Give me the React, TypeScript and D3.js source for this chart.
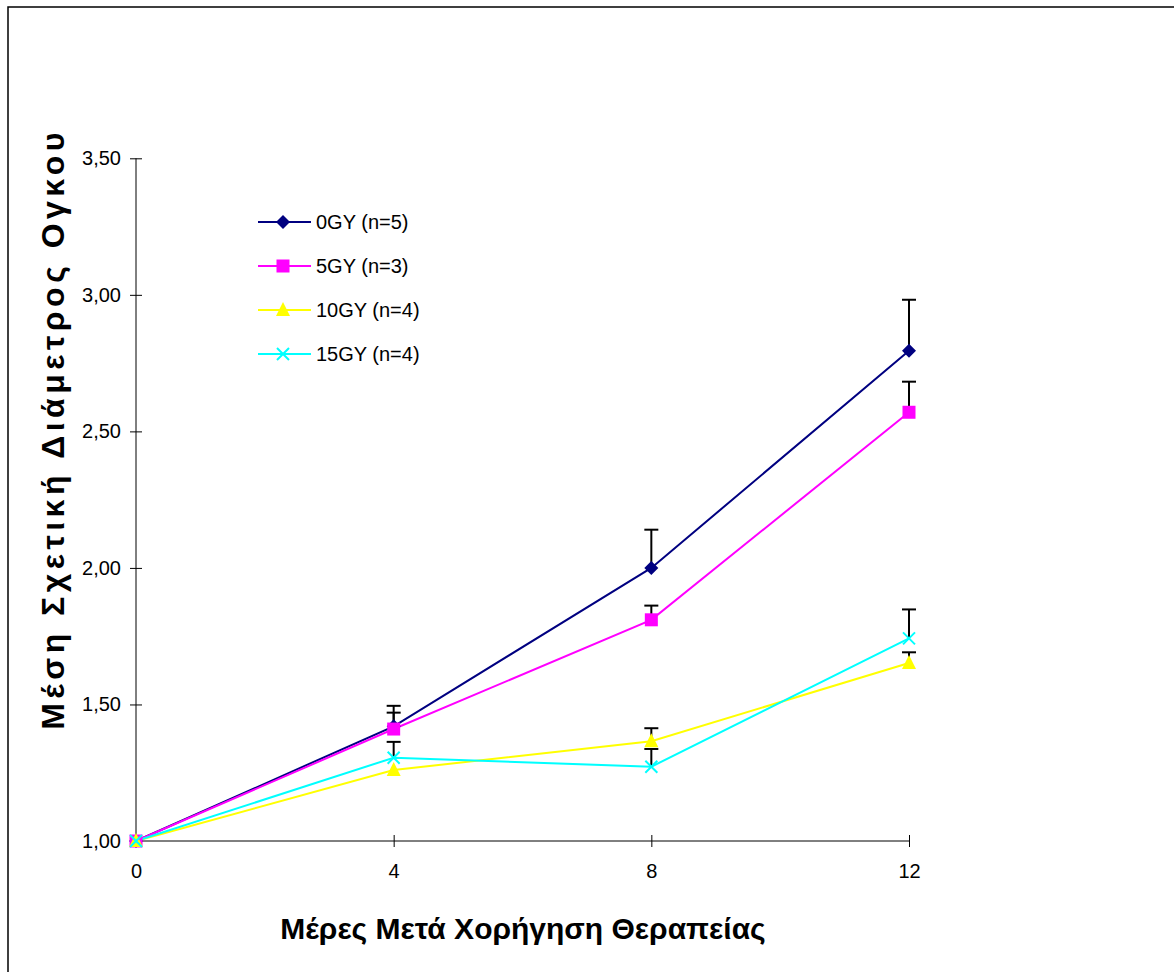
import React, { useEffect, useRef } from 'react';
import * as d3 from 'd3';

// days after treatment
const days = [0, 4, 8, 12];

const seriesNames = ['0GY (n=5)', '5GY (n=3)', '10GY (n=4)', '15GY (n=4)'];
const seriesColors = ['#000080', '#ff00ff', '#ffff00', '#00ffff'];
const seriesMarkers = ['diamond', 'square', 'triangle', 'cross'];

// mean relative tumour diameter
const gy0 = [1.0, 1.42, 2.0, 2.795];
const gy5 = [1.0, 1.41, 1.81, 2.57];
const gy10 = [1.0, 1.26, 1.365, 1.652];
const gy15 = [1.0, 1.305, 1.272, 1.742];

// upper end of error bars
const gy0Err = [1.0, 1.495, 2.14, 2.982];
const gy5Err = [1.0, 1.47, 1.862, 2.682];
const gy10Err = [1.0, 1.26, 1.413, 1.691];
const gy15Err = [1.0, 1.363, 1.337, 1.848];

const yTicks = [1.0, 1.5, 2.0, 2.5, 3.0, 3.5];

const FONT = 'Arial, "Liberation Sans", sans-serif';

const App = () => {
  const svgRef = useRef<SVGSVGElement>(null);
  const width = 1174;
  const height = 972;

  useEffect(() => {
    const svg = d3.select(svgRef.current);
    svg.selectAll('*').remove();

    const values = [gy0, gy5, gy10, gy15];
    const errs = [gy0Err, gy5Err, gy10Err, gy15Err];

    const x = d3.scaleLinear().domain([0, 12]).range([136, 909]);
    const y = d3.scaleLinear().domain([1, 3.5]).range([841, 158.3]);

    // outer frame
    svg.append('rect')
      .attr('x', 8).attr('y', 7)
      .attr('width', width + 20).attr('height', height + 20)
      .attr('fill', 'white').attr('stroke', '#000').attr('stroke-width', 1.5);

    // y axis
    const yAxis = svg.append('g')
      .attr('transform', 'translate(136,0)')
      .call(d3.axisLeft(y).tickValues(yTicks)
        .tickFormat(d => d3.format('.2f')(d as number).replace('.', ','))
        .tickSize(6));
    yAxis.selectAll('.tick line').attr('x2', 6).attr('x1', -6).attr('stroke', '#000');
    yAxis.select('.domain').attr('d', `M0,${y(3.5)}V${y(1)}`);
    yAxis.selectAll('text').attr('font-family', FONT)
      .attr('font-size', 20).attr('fill', '#000').attr('x', -15);

    // x axis
    const xAxis = svg.append('g')
      .attr('transform', 'translate(0,841)')
      .call(d3.axisBottom(x).tickValues(days).tickFormat(d3.format('d')).tickSize(6));
    xAxis.selectAll('.tick line').attr('y1', -6).attr('y2', 6).attr('stroke', '#000');
    xAxis.select('.domain').attr('d', `M${x(0)},0H${x(12)}`);
    xAxis.selectAll('text').attr('font-family', FONT)
      .attr('font-size', 20).attr('fill', '#000').attr('y', 23);

    // axis titles
    svg.append('text')
      .attr('x', 523).attr('y', 939)
      .attr('text-anchor', 'middle')
      .attr('font-family', FONT)
      .attr('font-weight', 'bold').attr('font-size', 30)
      .text('Μέρες Μετά Χορήγηση Θεραπείας');

    svg.append('text')
      .attr('transform', 'translate(64,429) rotate(-90)')
      .attr('text-anchor', 'middle')
      .attr('font-family', FONT)
      .attr('font-weight', 'bold').attr('font-size', 32)
      .attr('letter-spacing', 4.5)
      .text('Μέση Σχετική Διάμετρος Ογκου');

    const marker = (g: any, kind: string, color: string) => {
      if (kind === 'diamond') {
        g.append('path').attr('d', 'M0,-7L7,0L0,7L-7,0Z').attr('fill', color);
      } else if (kind === 'square') {
        g.append('rect').attr('x', -6.5).attr('y', -6.5).attr('width', 13).attr('height', 13).attr('fill', color);
      } else if (kind === 'triangle') {
        g.append('path').attr('d', 'M0,-8L7,6L-7,6Z').attr('fill', color);
      } else {
        g.append('path').attr('d', 'M-6,-6L6,6M-6,6L6,-6').attr('stroke', color).attr('stroke-width', 2);
      }
    };

    const line = d3.line<number>().x((_, i) => x(days[i])).y(d => y(d));

    // lines
    values.forEach((vals, s) => {
      svg.append('path').datum(vals)
        .attr('d', line)
        .attr('fill', 'none')
        .attr('stroke', seriesColors[s])
        .attr('stroke-width', 2);
    });

    // error bars
    errs.forEach((e, s) => {
      e.forEach((top, i) => {
        if (top <= values[s][i]) return;
        const g = svg.append('g').attr('stroke', '#000').attr('stroke-width', 2);
        g.append('line').attr('x1', x(days[i])).attr('x2', x(days[i]))
          .attr('y1', y(values[s][i])).attr('y2', y(top));
        g.append('line').attr('x1', x(days[i]) - 7).attr('x2', x(days[i]) + 7)
          .attr('y1', y(top)).attr('y2', y(top));
      });
    });

    // markers
    values.forEach((vals, s) => {
      vals.forEach((v, i) => {
        const g = svg.append('g').attr('transform', `translate(${x(days[i])},${y(v)})`);
        marker(g, seriesMarkers[s], seriesColors[s]);
      });
    });

    // legend
    seriesNames.forEach((name, s) => {
      const ly = 222 + s * 44;
      svg.append('line').attr('x1', 258).attr('x2', 311).attr('y1', ly).attr('y2', ly)
        .attr('stroke', seriesColors[s]).attr('stroke-width', 2);
      const g = svg.append('g').attr('transform', `translate(283,${ly})`);
      marker(g, seriesMarkers[s], seriesColors[s]);
      svg.append('text').attr('x', 316).attr('y', ly).attr('dy', '0.35em')
        .attr('font-family', FONT)
        .attr('font-size', 20).attr('fill', '#000')
        .text(name);
    });
  }, []);

  return (
    <svg ref={svgRef} width={width} height={height}
      style={{ position: 'absolute', left: 0, top: 0, background: 'white' }} />
  );
};

export default App;
